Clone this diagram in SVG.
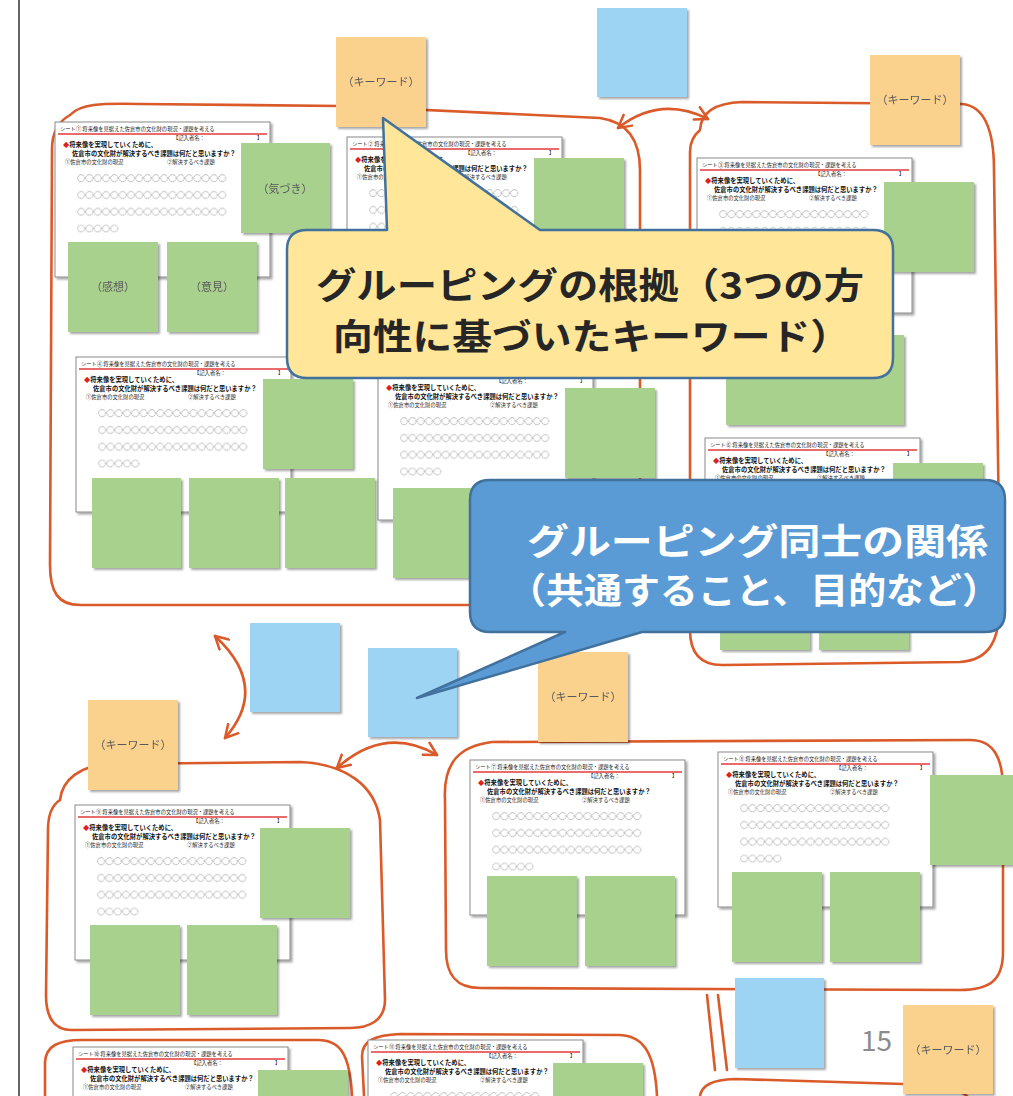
<svg xmlns="http://www.w3.org/2000/svg" xmlns:xlink="http://www.w3.org/1999/xlink" width="1013" height="1096" viewBox="0 0 1013 1096">
<style>
.t{font-family:"Noto Sans CJK JP","Noto Sans",sans-serif}
.g{fill:#A9D18E}
.k{fill:#FAD28E}
.b{fill:#9DD4F3}
.lp{fill:none;stroke:#DA5A2A;stroke-width:2.6;stroke-linecap:round;stroke-linejoin:round}
.nl{font-family:"Noto Sans CJK JP","Noto Sans",sans-serif;font-size:11px;fill:#595959;text-anchor:middle}
.st{font-family:"Noto Sans CJK JP",sans-serif;font-size:5.3px;fill:#222}
.s5{font-family:"Noto Sans CJK JP",sans-serif;font-size:5.3px;fill:#222}
.s7{font-family:"Noto Sans CJK JP",sans-serif;font-size:6.3px;fill:#111;font-weight:bold}
.cy{font-family:"Noto Sans CJK JP",sans-serif;font-size:36px;font-weight:bold;fill:#262626}
.cb{font-family:"Noto Sans CJK JP",sans-serif;font-size:36px;font-weight:bold;fill:#ffffff}
</style>
<defs>
<filter id="sh" x="-10%" y="-10%" width="125%" height="125%">
<feDropShadow dx="2" dy="2" stdDeviation="1.2" flood-color="#000" flood-opacity="0.35"/>
</filter>
<pattern id="circ" x="22" y="52" width="8.3" height="16.8" patternUnits="userSpaceOnUse">
<circle cx="4.15" cy="4.15" r="3.5" fill="none" stroke="#777" stroke-width="0.7" stroke-dasharray="1.3 0.7"/>
</pattern>
<g id="sheet">
<rect x="0" y="0" width="215" height="155" fill="#fff" stroke="#8a8a8a" stroke-width="1" filter="url(#sh)"/>
<line x1="3" y1="12" x2="212" y2="12" stroke="#E23A3A" stroke-width="1.3"/>
<text x="118" y="17.8" class="s5">【記入者名：</text>
<text x="202" y="17.8" class="s5">】</text>
<text x="8" y="25" class="s7"><tspan fill="#E02020">◆</tspan>将来像を実現していくために、</text>
<text x="17" y="33.5" class="s7">佐倉市の文化財が解決するべき課題は何だと思いますか？</text>
<text x="10" y="41.8" class="s5">①佐倉市の文化財の現況</text>
<text x="112" y="41.8" class="s5">②解決するべき課題</text>
<rect x="22" y="52" width="149.4" height="50" fill="url(#circ)"/>
<rect x="22" y="102.4" width="41.5" height="8.4" fill="url(#circ)"/>
</g>
<marker id="ah" viewBox="0 0 14 14" refX="12" refY="7" markerWidth="16" markerHeight="16" markerUnits="userSpaceOnUse" orient="auto-start-reverse">
<path d="M1,1 L12,7 L1,13" fill="none" stroke="#DA5A2A" stroke-width="2.2" stroke-linecap="round" stroke-linejoin="round"/>
</marker>
</defs>

<rect width="1013" height="1096" fill="#ffffff"/>
<line x1="19" y1="0" x2="19" y2="1096" stroke="#333" stroke-width="1.5"/>

<g id="connectors">
<path class="lp" d="M70,115 C80,104 100,103 140,104 L340,106 L600,118 C628,122 640,140 640,170 L640,575 C640,598 622,605 598,605 L80,605 C58,605 50,592 50,565 L52,150 C52,132 58,122 70,115 Z"/>
<path class="lp" d="M700,130 C701,112 715,103 742,102 L962,104 C985,106 994,130 994,170 L1000,600 C1000,640 990,660 960,662 L722,665 C700,665 690,652 690,630 L690,152 C690,142 694,135 700,130 Z"/>
<path class="lp" d="M60,800 C62,780 80,765 110,764 L300,762 C345,764 375,785 380,820 L385,1000 C385,1020 370,1028 350,1028 L72,1030 C52,1030 46,1015 46,995 L48,830 C48,815 52,805 60,800 Z"/>
<path class="lp" d="M445,800 C443,762 460,746 492,742 L970,740 C995,740 1003,760 1003,790 L1003,952 C1003,980 990,990 960,990 L480,988 C456,988 446,975 446,950 Z"/>
<path class="lp" d="M45,1096 L45,1062 C46,1046 58,1040 82,1040 L318,1040 C340,1040 350,1054 352,1096"/>
<path class="lp" d="M364,1096 L362,1056 C362,1041 375,1035 400,1034 L620,1035 C645,1036 655,1056 657,1096"/>
<path class="lp" d="M700,1096 C702,1085 712,1080 735,1079 L903,1084 C940,1086 960,1090 967,1096"/>
<path class="lp" d="M618,128 Q660,95 708,119" marker-start="url(#ah)" marker-end="url(#ah)"/>
<path class="lp" d="M215,636 Q270,687 225,738" marker-start="url(#ah)" marker-end="url(#ah)"/>
<path class="lp" d="M337,768 Q385,725 437,755" marker-start="url(#ah)" marker-end="url(#ah)"/>
<line class="lp" x1="707" y1="995" x2="715" y2="1070"/>
<line class="lp" x1="718" y1="995" x2="727" y2="1070"/>
</g>

<g id="sheetA"><use href="#sheet" x="55" y="122"/><text x="60" y="131" class="st">シート① 将来像を見据えた佐倉市の文化財の現況・課題を考える</text></g>
<g id="sheetB"><use href="#sheet" x="347" y="137"/><text x="352" y="146" class="st">シート② 将来像を見据えた佐倉市の文化財の現況・課題を考える</text></g>
<g id="sheetC"><use href="#sheet" x="697" y="158"/><text x="702" y="167" class="st">シート③ 将来像を見据えた佐倉市の文化財の現況・課題を考える</text></g>
<g id="sheetD"><use href="#sheet" x="76" y="357"/><text x="81" y="366" class="st">シート④ 将来像を見据えた佐倉市の文化財の現況・課題を考える</text></g>
<g id="sheetE"><use href="#sheet" x="378" y="365"/><text x="383" y="374" class="st">シート⑤ 将来像を見据えた佐倉市の文化財の現況・課題を考える</text></g>
<g id="sheetF"><use href="#sheet" x="705" y="438"/><text x="710" y="447" class="st">シート⑥ 将来像を見据えた佐倉市の文化財の現況・課題を考える</text></g>
<g id="sheetG"><use href="#sheet" x="470" y="760"/><text x="475" y="769" class="st">シート⑦ 将来像を見据えた佐倉市の文化財の現況・課題を考える</text></g>
<g id="sheetH"><use href="#sheet" x="718" y="752"/><text x="723" y="761" class="st">シート⑧ 将来像を見据えた佐倉市の文化財の現況・課題を考える</text></g>
<g id="sheetI"><use href="#sheet" x="75" y="805"/><text x="80" y="814" class="st">シート⑨ 将来像を見据えた佐倉市の文化財の現況・課題を考える</text></g>
<g id="sheetJ"><use href="#sheet" x="73" y="1047"/><text x="78" y="1056" class="st">シート⑩ 将来像を見据えた佐倉市の文化財の現況・課題を考える</text></g>
<g id="sheetK"><use href="#sheet" x="368" y="1040"/><text x="373" y="1049" class="st">シート⑪ 将来像を見据えた佐倉市の文化財の現況・課題を考える</text></g>

<g id="greens" filter="url(#sh)">
<g id="gA1"><rect class="g" x="241" y="143" width="89" height="90"/><text class="nl" x="285" y="193">（気づき）</text></g>
<g id="gA2"><rect class="g" x="68" y="242" width="90" height="90"/><text class="nl" x="113" y="291">（感想）</text></g>
<g id="gA3"><rect class="g" x="167" y="242" width="90" height="90"/><text class="nl" x="212" y="291">（意見）</text></g>
<rect id="gB1" class="g" x="534" y="158" width="90" height="90"/>
<rect id="gC1" class="g" x="884" y="182" width="90" height="90"/>
<rect id="gC2" class="g" x="726" y="335" width="88" height="90"/>
<rect id="gC3" class="g" x="814" y="335" width="90" height="90"/>
<rect id="gD1" class="g" x="263" y="379" width="90" height="90"/>
<rect id="gD2" class="g" x="92" y="478" width="89" height="90"/>
<rect id="gD3" class="g" x="189" y="478" width="90" height="90"/>
<rect id="gD4" class="g" x="285" y="478" width="90" height="90"/>
<rect id="gE1" class="g" x="565" y="388" width="90" height="90"/>
<rect id="gE2" class="g" x="393" y="488" width="90" height="90"/>
<rect id="gF1" class="g" x="893" y="463" width="90" height="90"/>
<rect id="gF2" class="g" x="720" y="560" width="90" height="90"/>
<rect id="gF3" class="g" x="819" y="560" width="90" height="90"/>
<rect id="gG1" class="g" x="487" y="876" width="90" height="90"/>
<rect id="gG2" class="g" x="585" y="876" width="90" height="90"/>
<rect id="gH1" class="g" x="930" y="775" width="90" height="90"/>
<rect id="gH2" class="g" x="732" y="872" width="90" height="90"/>
<rect id="gH3" class="g" x="830" y="872" width="90" height="90"/>
<rect id="gI1" class="g" x="260" y="828" width="90" height="90"/>
<rect id="gI2" class="g" x="90" y="925" width="90" height="90"/>
<rect id="gI3" class="g" x="187" y="925" width="90" height="90"/>
<rect id="gJ1" class="g" x="258" y="1070" width="90" height="90"/>
<rect id="gK1" class="g" x="553" y="1063" width="90" height="90"/>
</g>

<g id="keywords" filter="url(#sh)">
<g id="kw1"><rect class="k" x="336" y="37" width="90" height="90"/><text class="nl" x="381" y="86">（キーワード）</text></g>
<g id="kw2"><rect class="k" x="870" y="55" width="90" height="90"/><text class="nl" x="915" y="104">（キーワード）</text></g>
<g id="kw3"><rect class="k" x="538" y="652" width="90" height="90"/><text class="nl" x="583" y="701">（キーワード）</text></g>
<g id="kw4"><rect class="k" x="88" y="700" width="90" height="90"/><text class="nl" x="133" y="749">（キーワード）</text></g>
<g id="kw5"><rect class="k" x="903" y="1005" width="90" height="89"/><text class="nl" x="948" y="1054">（キーワード）</text></g>
</g>

<g id="blues" filter="url(#sh)">
<rect id="bl1" class="b" x="597" y="8" width="90" height="89"/>
<rect id="bl2" class="b" x="250" y="623" width="90" height="89"/>
<rect id="bl3" class="b" x="368" y="648" width="89" height="89"/>
<rect id="bl4" class="b" x="735" y="978" width="89" height="90"/>
</g>

<text id="pagenum" x="861" y="1051" class="t" font-size="28" fill="#8C8C8C">15</text>

<g id="calloutYellow">
<path d="M307,230 L387,230 L383,118 L540,230 L873,230 Q893,230 893,250 L893,358 Q893,378 873,378 L307,378 Q287,378 287,358 L287,250 Q287,230 307,230 Z" fill="#FFE699" stroke="#41719C" stroke-width="2.5" stroke-linejoin="round"/>
<text class="cy" x="316" y="299" textLength="548" lengthAdjust="spacingAndGlyphs">グルーピングの根拠（3つの方</text>
<text class="cy" x="333" y="350" textLength="517" lengthAdjust="spacingAndGlyphs">向性に基づいたキーワード）</text>
</g>

<g id="calloutBlue">
<path d="M490,480 L985,480 Q1005,480 1005,500 L1005,612 Q1005,632 985,632 L642,632 L417,698 L565,632 L490,632 Q470,632 470,612 L470,500 Q470,480 490,480 Z" fill="#5B9BD5" stroke="#41719C" stroke-width="2.5" stroke-linejoin="round"/>
<text class="cb" x="527" y="555" textLength="461" lengthAdjust="spacingAndGlyphs">グルーピング同士の関係</text>
<text class="cb" x="508" y="604" textLength="492" lengthAdjust="spacingAndGlyphs">（共通すること、目的など）</text>
</g>
</svg>
